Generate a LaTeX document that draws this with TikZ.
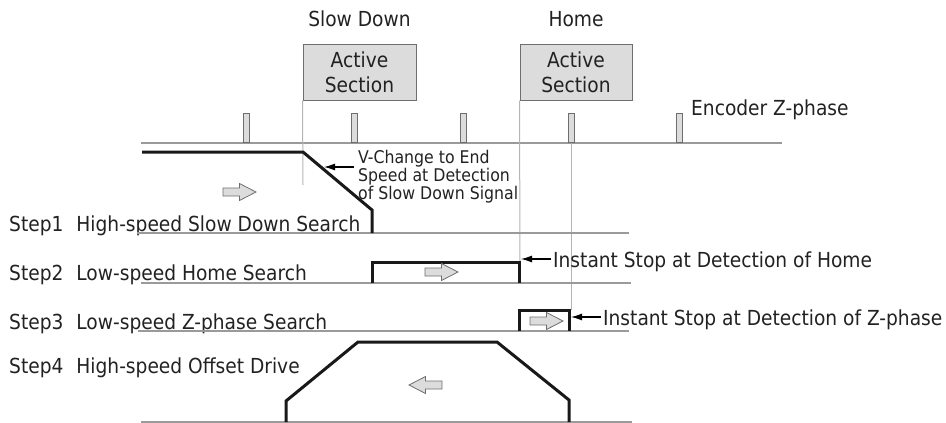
\documentclass[tikz,border=0pt]{standalone}
\usepackage{fontspec}
\setmainfont{DejaVu Sans Condensed}
\usetikzlibrary{arrows.meta,calc}
\definecolor{boxfill}{HTML}{DCDCDC}
\definecolor{boxline}{HTML}{6E6E6E}
\definecolor{axisline}{HTML}{9A9A9A}
\definecolor{guide}{HTML}{B4B4B4}
\definecolor{txtcol}{HTML}{222222}
\tikzset{
  txt/.style={inner sep=0pt, text=txtcol, font=\fontsize{20.7}{25}\selectfont},
  smalltxt/.style={inner sep=0pt, text=txtcol, font=\fontsize{17.5}{18}\selectfont, align=left},
  sectionbox/.style={draw=boxline, fill=boxfill, line width=1pt, inner sep=0pt, align=center,
     minimum height=56pt, text=txtcol, font=\fontsize{20.7}{25}\selectfont},
  pulse/.style={draw=boxline, fill=boxfill, line width=0.8pt, inner sep=0pt,
     minimum width=6pt, minimum height=29pt, anchor=south},
  axis/.style={draw=axisline, line width=1.3pt},
  guideline/.style={draw=guide, line width=1pt},
  profile/.style={draw=black!90, line width=3pt, line join=miter},
  ann/.style={draw=black, line width=1.2pt, -{Latex[length=11pt,width=7pt]}},
  blk/.style={draw=boxline, fill=boxfill, line width=0.8pt, line join=miter},
  rarrow/.pic={\path[blk] (-16.5,-4) -- (0,-4) -- (0,-8.5) -- (16.5,0) -- (0,8.5) -- (0,4) -- (-16.5,4) -- cycle;}
}
\begin{document}
\begin{tikzpicture}[x=1pt,y=-1pt]
\useasboundingbox (0,0) rectangle (946,423);

% top labels and section boxes
\node[txt, anchor=base] (sdlabel) at (359.5,27) {Slow Down};
\node[txt, anchor=base] (homelabel) at (576,27) {Home};
\node[sectionbox, minimum width=113pt] (box1) at (359.5,72) {Active\\Section};
\node[sectionbox, minimum width=112pt] (box2) at (576,72) {Active\\Section};

% encoder line and pulses
\coordinate (encL) at (141,143);
\coordinate (encR) at (782,143);
\draw[axis] (encL) -- (encR);
\node[pulse] (z1) at (246,143) {};
\node[pulse] (z2) at (354,143) {};
\node[pulse] (z3) at (463,143) {};
\node[pulse] (z4) at (571,143) {};
\node[pulse] (z5) at (679,143) {};
\node[txt, anchor=base west] (enclabel) at (691,115) {Encoder Z-phase};

% guide lines
\coordinate (g1) at (303,185);
\coordinate (g2) at (520,262);
\coordinate (g3) at (571,310);
\draw[guideline] (box1.south west) -- (g1);
\draw[guideline] (box2.south west) -- (g2);
\draw[guideline] (z4.south) -- (g3);

% step labels
\node[txt, anchor=base west] (s1) at (9,231) {Step1\hspace{13pt}High-speed Slow Down Search};
\node[txt, anchor=base west] (s2) at (9,280) {Step2\hspace{13pt}Low-speed Home Search};
\node[txt, anchor=base west] (s3) at (9,329) {Step3\hspace{13pt}Low-speed Z-phase Search};
\node[txt, anchor=base west] (s4) at (9,373) {Step4\hspace{13pt}High-speed Offset Drive};

% step base lines
\draw[axis] (137,233) -- (629,233);
\draw[axis] (141,283) -- (631,283);
\draw[axis] (138,331) -- (629,331);
\draw[axis] (141,422) -- (632,422);

% profiles
\draw[profile] (142,152) -- (303,152) -- (372,210) -- (372,233);
\draw[profile] (372,283) -- (372,262) -- (519,262) -- (519,283);
\draw[profile] (519,331) -- (519,310) -- (569,310) -- (569,331);
\draw[profile] (286,422) -- (286,401) -- (358,342) -- (497,342) -- (569,400) -- (569,422);

% direction arrows
\pic at (239.5,192) {rarrow};
\pic at (441.5,272) {rarrow};
\pic at (546.5,321) {rarrow};
\pic[xscale=-1] at (425.5,385) {rarrow};

% annotations
\node[smalltxt, anchor=north west] (vtext) at (358,150) {V-Change to End\\Speed at Detection\\of Slow Down Signal};
\coordinate (vtail) at (354,167);
\coordinate (vtip) at (324,167);
\draw[ann] (vtail) -- (vtip);

\node[txt, anchor=base west] (hometext) at (553,267) {Instant Stop at Detection of Home};
\coordinate (hometip) at (521,259);
\draw[ann] ($(hometext.west |- hometip)+(-2,0)$) -- (hometip);

\node[txt, anchor=base west] (ztext) at (603,325) {Instant Stop at Detection of Z-phase};
\coordinate (ztip) at (571,317);
\draw[ann] ($(ztext.west |- ztip)+(-2,0)$) -- (ztip);
\end{tikzpicture}
\end{document}
